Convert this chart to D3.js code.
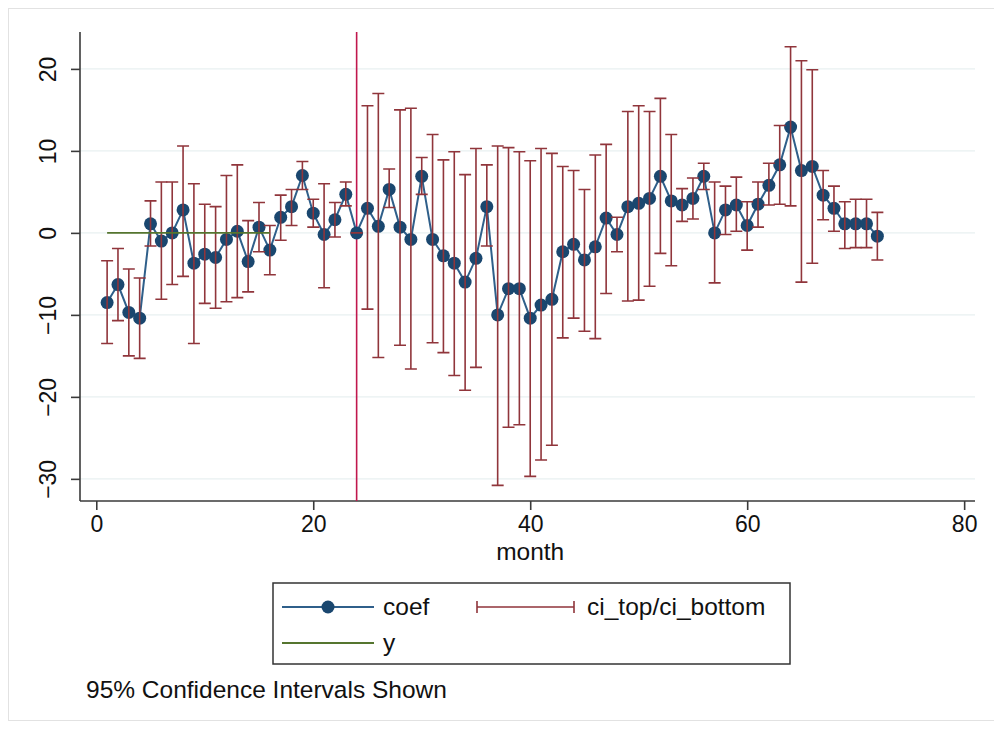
<!DOCTYPE html>
<html><head><meta charset="utf-8">
<script src="https://cdn.jsdelivr.net/npm/d3@7"></script>
<style>body{margin:0;background:#fff}svg{display:block}text{font-family:"Liberation Sans",Arial,sans-serif;fill:#111}</style>
</head><body>
<svg id="chart" width="994" height="729"></svg>
<script>
const months = d3.range(1, 73);
const coef = [-8.5,-6.3,-9.7,-10.4,1.1,-1.0,0.0,2.8,-3.7,-2.6,-3.0,-0.8,0.2,-3.5,0.7,-2.1,1.9,3.2,7.0,2.4,-0.2,1.6,4.7,0,
  3.0,0.8,5.3,0.7,-0.8,6.9,-0.8,-2.8,-3.7,-6.0,-3.1,3.2,-10.0,-6.8,-6.8,-10.4,-8.8,-8.1,-2.3,-1.4,-3.3,-1.7,1.8,-0.2,
  3.2,3.6,4.2,6.9,3.9,3.4,4.2,6.9,0.0,2.8,3.4,0.9,3.5,5.8,8.3,12.9,7.6,8.1,4.6,3.0,1.1,1.1,1.1,-0.4];
const ciTop = [-3.4,-1.9,-4.4,-5.5,3.9,6.2,6.2,10.6,6.0,3.5,3.2,7.0,8.3,1.5,3.7,0.9,4.6,5.3,8.7,4.1,6.0,3.7,6.2,0,
  15.5,17.0,7.8,15.0,15.2,9.2,12.0,8.9,9.9,7.1,10.3,8.3,10.6,10.4,9.9,8.8,10.3,9.7,8.1,7.6,5.3,9.5,10.8,1.9,
  14.8,15.5,14.8,16.4,12.0,5.4,6.7,8.5,6.2,5.7,6.8,3.8,6.2,8.5,13.1,22.7,21.0,19.9,7.6,5.7,3.8,4.1,4.1,2.5];
const ciBottom = [-13.5,-10.7,-15.0,-15.3,-1.6,-8.1,-6.3,-5.3,-13.5,-8.6,-9.2,-8.4,-7.9,-7.2,-2.3,-5.1,-0.9,0.9,5.3,0.7,-6.7,-0.5,3.3,0,
  -9.3,-15.2,3.1,-13.7,-16.6,4.7,-13.4,-14.6,-17.4,-19.2,-16.4,-1.6,-30.8,-23.7,-23.4,-29.7,-27.7,-25.9,-12.8,-10.4,-12.0,-12.9,-7.4,-2.3,
  -8.3,-8.2,-6.5,-2.5,-4.0,1.4,1.7,5.3,-6.1,-0.2,0.2,-2.1,0.7,3.4,3.5,3.3,-6.0,-3.7,1.6,0.2,-1.9,-1.8,-1.8,-3.3];
const yMonths = d3.range(1, 17);
const yValues = yMonths.map(() => 0);
const xTicks = [0, 20, 40, 60, 80];
const yTicks = [-30, -20, -10, 0, 10, 20];
const xLineAt = 24;
const legendLabels = ["coef", "ci_top/ci_bottom", "y"];
const caption = "95% Confidence Intervals Shown";
const xTitle = "month";

const navy = "#1a476f", maroon = "#90353b", green = "#55752f", xlineCol = "#c0174d", axisCol = "#3a3a3a", gridCol = "#e8f0f1";
const tickFont = 23, textFont = 24.5;
const svg = d3.select("#chart");
const L = 80, R = 975, T = 32, B = 501;
const x = d3.scaleLinear().domain([-1.5, 81]).range([L, R]);
const y = d3.scaleLinear().domain([-32.7, 24.5]).range([B, T]);

// outer frame
svg.append("rect").attr("x", 8.5).attr("y", 8.5).attr("width", 990).attr("height", 712)
  .attr("fill", "none").attr("stroke", "#e2e2e2");

// gridlines
svg.append("g").selectAll("line").data(yTicks).join("line")
  .attr("x1", L).attr("x2", R).attr("y1", d => y(d)).attr("y2", d => y(d))
  .attr("stroke", gridCol).attr("stroke-width", 1.2);

// axes
const yAxis = d3.axisLeft(y).tickValues(yTicks).tickSize(9).tickPadding(8).tickFormat(d3.format("d"));
const gy = svg.append("g").attr("transform", `translate(${L},0)`).call(yAxis);
gy.select(".domain").attr("stroke", axisCol).attr("stroke-width", 1.6).attr("d", `M0,${T}V${B}`);
gy.selectAll(".tick line").attr("stroke", axisCol).attr("stroke-width", 1.6);
gy.selectAll(".tick text").attr("font-size", tickFont).attr("fill", "#111")
  .attr("text-anchor", "middle").attr("x", 0).attr("y", 0).attr("dy", "0")
  .attr("transform", "translate(-24,0) rotate(-90)");

const xAxis = d3.axisBottom(x).tickValues(xTicks).tickSize(9).tickPadding(6).tickFormat(d3.format("d"));
const gx = svg.append("g").attr("transform", `translate(0,${B})`).call(xAxis);
gx.select(".domain").attr("stroke", axisCol).attr("stroke-width", 1.6).attr("d", `M${L},0H${R}`);
gx.selectAll(".tick line").attr("stroke", axisCol).attr("stroke-width", 1.6);
gx.selectAll(".tick text").attr("font-size", tickFont).attr("fill", "#111");

svg.append("text").attr("x", x(40)).attr("y", 560).attr("text-anchor", "middle")
  .attr("font-size", textFont).text(xTitle);

// xline
svg.append("line").attr("x1", x(xLineAt)).attr("x2", x(xLineAt)).attr("y1", T).attr("y2", B)
  .attr("stroke", xlineCol).attr("stroke-width", 1.6);

// coef connected
const data = months.map((m, i) => ({m, c: coef[i], t: ciTop[i], b: ciBottom[i]}));
svg.append("path").datum(data)
  .attr("d", d3.line().x(d => x(d.m)).y(d => y(d.c)))
  .attr("fill", "none").attr("stroke", "#2f5f8a").attr("stroke-width", 2);
svg.append("g").selectAll("circle").data(data).join("circle")
  .attr("cx", d => x(d.m)).attr("cy", d => y(d.c)).attr("r", 6.5).attr("fill", navy);

// rcap
const cap = 6;
const gci = svg.append("g").attr("stroke", maroon).attr("stroke-width", 1.6).attr("fill", "none");
gci.selectAll("path").data(data).join("path")
  .attr("d", d => `M${x(d.m)},${y(d.t)}V${y(d.b)}M${x(d.m)-cap},${y(d.t)}H${x(d.m)+cap}M${x(d.m)-cap},${y(d.b)}H${x(d.m)+cap}`);

// y line
svg.append("path").datum(yMonths.map((m, i) => ({m, v: yValues[i]})))
  .attr("d", d3.line().x(d => x(d.m)).y(d => y(d.v)))
  .attr("fill", "none").attr("stroke", green).attr("stroke-width", 1.8);

// legend
const lg = svg.append("g");
lg.append("rect").attr("x", 273).attr("y", 583).attr("width", 517).attr("height", 81)
  .attr("fill", "#fff").attr("stroke", "#333").attr("stroke-width", 1.5);
const r1 = 607, r2 = 643;
lg.append("line").attr("x1", 282).attr("x2", 374).attr("y1", r1).attr("y2", r1).attr("stroke", "#2f5f8a").attr("stroke-width", 2);
lg.append("circle").attr("cx", 328).attr("cy", r1).attr("r", 6.5).attr("fill", navy);
lg.append("text").attr("x", 383).attr("y", r1 + 8).attr("font-size", textFont).text(legendLabels[0]);
lg.append("path").attr("d", `M477,${r1}H574M477,${r1-6}V${r1+6}M574,${r1-6}V${r1+6}`)
  .attr("stroke", maroon).attr("stroke-width", 1.6).attr("fill", "none");
lg.append("text").attr("x", 587).attr("y", r1 + 8).attr("font-size", textFont).text(legendLabels[1]);
lg.append("line").attr("x1", 282).attr("x2", 374).attr("y1", r2).attr("y2", r2).attr("stroke", green).attr("stroke-width", 1.8);
lg.append("text").attr("x", 383).attr("y", r2 + 8).attr("font-size", textFont).text(legendLabels[2]);

svg.append("text").attr("x", 86).attr("y", 698).attr("font-size", textFont).text(caption);
</script>
</body></html>
